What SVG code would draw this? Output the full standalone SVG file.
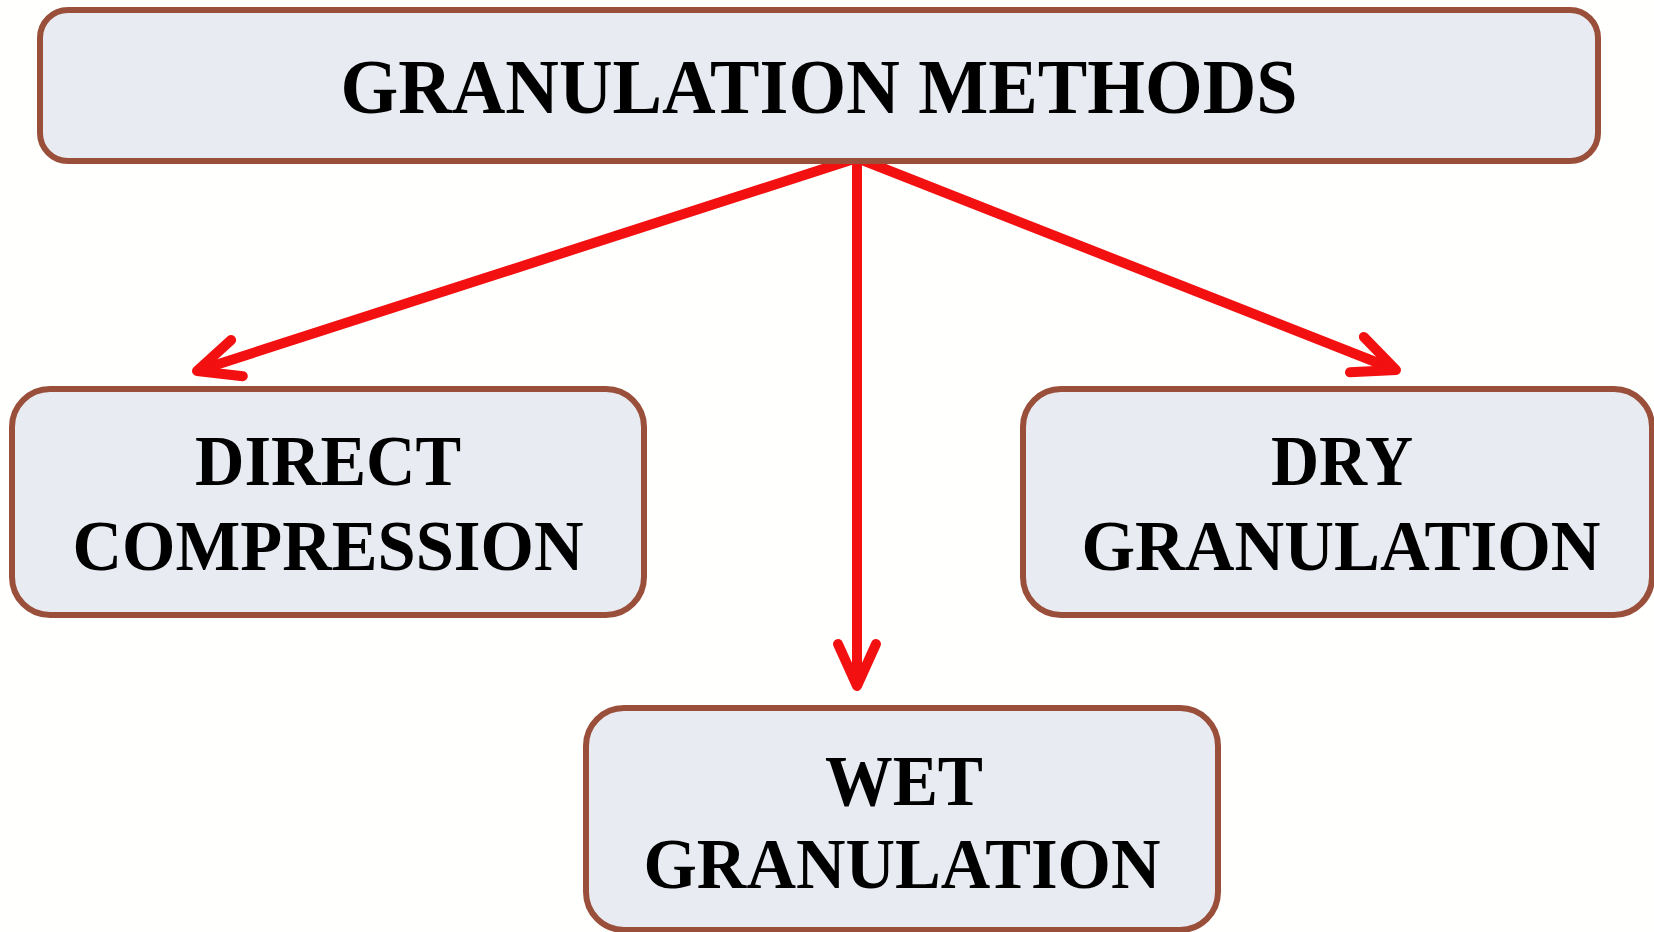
<svg xmlns="http://www.w3.org/2000/svg" width="1654" height="932" viewBox="0 0 1654 932">
  <defs>
    <style>
      .box { fill: #e8ecf2; stroke: #9a4f3b; stroke-width: 6; }
      .label { font-family: "Liberation Serif", "Times New Roman", serif; font-weight: bold; fill: #000; text-anchor: middle; }
      .arrow { fill: none; stroke: #f21010; stroke-width: 10; stroke-linecap: butt; }
    </style>
    <!-- open V arrowhead with rounded ends -->
    <marker id="head" markerUnits="userSpaceOnUse" viewBox="-60 -30 70 60" refX="0" refY="0" markerWidth="70" markerHeight="60" orient="auto">
      <path d="M -42,-19 L 0,0 L -42,19" fill="none" stroke="#f21010" stroke-width="10" stroke-linecap="round" stroke-linejoin="round"/>
    </marker>
  </defs>

  <rect width="1654" height="932" fill="#fffffe"/>

  <g id="connectors">
    <path class="arrow" d="M 857,158 L 197,371" marker-end="url(#head)"/>
    <path class="arrow" d="M 857,158 L 857,686" marker-end="url(#head)"/>
    <path class="arrow" d="M 857,158 L 1396,370" marker-end="url(#head)"/>
  </g>

  <g id="granulation-methods">
    <rect class="box" x="40" y="10" width="1558" height="151" rx="28"/>
    <text class="label" x="819" y="113" font-size="78" textLength="957" lengthAdjust="spacingAndGlyphs">GRANULATION METHODS</text>
  </g>

  <g id="direct-compression">
    <rect class="box" x="12" y="389" width="632" height="226" rx="38"/>
    <text class="label" x="328" y="485" font-size="72" textLength="266" lengthAdjust="spacingAndGlyphs">DIRECT</text>
    <text class="label" x="328" y="570" font-size="72" textLength="511" lengthAdjust="spacingAndGlyphs">COMPRESSION</text>
  </g>

  <g id="dry-granulation">
    <rect class="box" x="1023" y="389" width="629" height="226" rx="38"/>
    <text class="label" x="1342" y="485" font-size="72" textLength="142" lengthAdjust="spacingAndGlyphs">DRY</text>
    <text class="label" x="1341" y="570" font-size="72" textLength="519" lengthAdjust="spacingAndGlyphs">GRANULATION</text>
  </g>

  <g id="wet-granulation">
    <rect class="box" x="586" y="708" width="632" height="222" rx="38"/>
    <text class="label" x="904" y="805" font-size="72" textLength="158" lengthAdjust="spacingAndGlyphs">WET</text>
    <text class="label" x="902" y="888" font-size="72" textLength="517" lengthAdjust="spacingAndGlyphs">GRANULATION</text>
  </g>
</svg>
